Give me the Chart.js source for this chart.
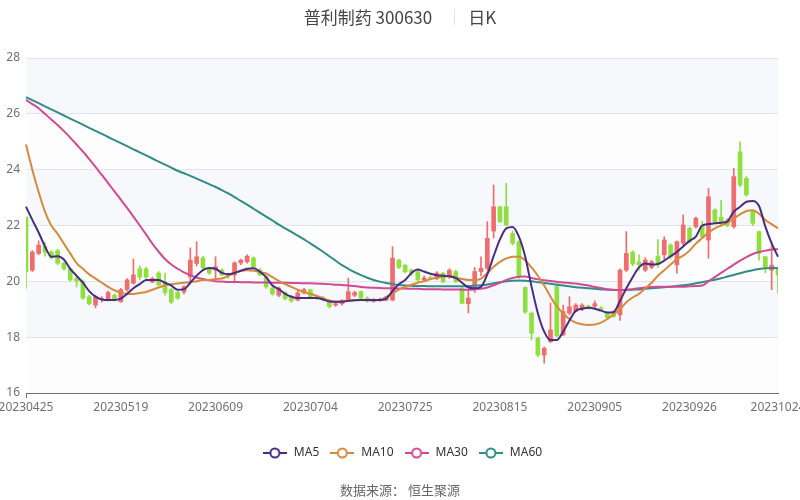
<!DOCTYPE html>
<html>
<head>
<meta charset="utf-8">
<script src="https://cdn.jsdelivr.net/npm/chart.js@4.4.0/dist/chart.umd.min.js"></script>
<style>
  html, body { margin: 0; padding: 0; background: #fff; }
  #wrap { position: relative; width: 800px; height: 500px; overflow: hidden; font-family: "Noto Sans CJK SC", "Noto Sans", sans-serif; }
  #title { position: absolute; top: 4px; left: 0; width: 800px; display: flex; justify-content: center; align-items: center; font-size: 17px; color: #464646; }
  #title .sep { width: 1px; height: 16px; background: #e3e3e3; margin: 0 13px 0 22px; }
  #source { position: absolute; top: 480px; left: 0; width: 800px; text-align: center; font-size: 13px; color: #666; }
  #chart { position: absolute; left: 0; top: 0; }
</style>
</head>
<body>
<div id="wrap">
  <canvas id="chart" width="800" height="500"></canvas>
  <div id="title"><span>普利制药 300630</span><span class="sep"></span><span>日K</span></div>
  <div id="source">数据来源：&nbsp;恒生聚源</div>
</div>
<script>
// --- data ---
const dates = [
  '20230425','20230426','20230427','20230428','20230504','20230505','20230508','20230509','20230510','20230511',
  '20230512','20230515','20230516','20230517','20230518','20230519','20230522','20230523','20230524','20230525',
  '20230526','20230529','20230530','20230531','20230601','20230602','20230605','20230606','20230607','20230608',
  '20230609','20230612','20230613','20230614','20230615','20230616','20230619','20230620','20230621','20230626',
  '20230627','20230628','20230629','20230630','20230703','20230704','20230705','20230706','20230707','20230710',
  '20230711','20230712','20230713','20230714','20230717','20230718','20230719','20230720','20230721','20230724',
  '20230725','20230726','20230727','20230728','20230731','20230801','20230802','20230803','20230804','20230807',
  '20230808','20230809','20230810','20230811','20230814','20230815','20230816','20230817','20230818','20230821',
  '20230822','20230823','20230824','20230825','20230828','20230829','20230830','20230831','20230901','20230904',
  '20230905','20230906','20230907','20230908','20230911','20230912','20230913','20230914','20230915','20230918',
  '20230919','20230920','20230921','20230922','20230925','20230926','20230927','20230928','20231009','20231010',
  '20231011','20231012','20231013','20231016','20231017','20231018','20231019','20231020','20231023','20231024'
];

const openPrices = [
  22.3,20.4,21.0,21.25,21.05,21.1,20.65,20.45,20.1,20.0,
  19.45,19.15,19.35,19.35,19.5,19.27,19.7,19.93,20.45,20.45,
  19.97,20.3,19.94,19.7,19.6,19.62,20.16,20.64,20.84,20.45,
  20.4,20.4,20.25,20.23,20.66,20.7,20.84,20.4,20.16,19.76,
  19.5,19.6,19.45,19.33,19.58,19.7,19.45,19.4,19.27,19.15,
  19.2,19.33,19.5,19.63,19.4,19.28,19.32,19.33,19.33,20.76,
  20.58,20.4,20.35,20.05,20.12,20.1,20.29,20.17,20.35,19.75,
  19.2,19.87,20.35,20.47,21.8,22.67,22.67,21.72,21.42,19.78,
  18.86,17.96,17.36,17.84,19.81,18.08,18.86,18.92,19.0,19.1,
  19.1,19.05,18.86,18.9,18.8,20.4,21.05,20.7,20.4,20.5,
  20.9,20.95,21.3,20.59,21.37,21.9,21.96,22.0,21.48,22.56,
  22.3,22.2,21.96,24.64,23.69,22.5,21.78,20.88,20.4,20.47
];
const closePrices = [
  20.35,21.05,21.3,21.05,20.85,20.65,20.45,20.05,20.0,19.4,
  19.2,19.45,19.38,19.6,19.35,19.7,20.05,20.23,20.15,20.15,
  20.1,19.87,19.6,19.26,19.4,19.8,20.76,20.88,20.48,20.3,
  20.52,20.23,20.2,20.66,20.76,20.9,20.5,20.23,19.8,19.55,
  19.76,19.38,19.3,19.58,19.7,19.45,19.42,19.35,19.09,19.2,
  19.3,19.63,19.6,19.4,19.3,19.33,19.35,19.38,20.83,20.5,
  20.34,20.3,20.05,20.12,20.1,20.3,19.99,20.4,19.99,19.21,
  19.4,20.35,20.47,21.54,22.67,22.14,22.02,21.36,20.17,18.9,
  18.14,17.36,17.6,18.26,18.05,18.92,19.09,19.15,19.15,19.08,
  19.2,19.0,18.7,18.75,20.4,21.0,20.62,20.6,20.76,20.7,
  20.6,21.48,20.88,21.42,22.02,21.42,22.26,21.6,23.03,22.14,
  22.1,22.0,23.75,23.45,23.1,22.08,21.0,20.52,20.58,20.23
];
const lowPrices = [
  19.75,20.35,20.95,20.9,20.8,20.6,20.4,20.0,19.8,19.35,
  19.15,19.05,19.25,19.3,19.3,19.25,19.65,19.9,20.05,20.1,
  19.95,19.85,19.5,19.2,19.35,19.55,20.0,20.55,20.45,20.25,
  20.05,20.2,20.1,19.94,20.6,20.65,20.45,20.2,19.75,19.5,
  19.45,19.33,19.25,19.3,19.55,19.4,19.35,19.3,19.05,19.1,
  19.15,19.3,19.45,19.35,19.25,19.25,19.28,19.3,19.3,20.45,
  20.3,20.2,20.0,20.0,20.05,20.05,19.95,20.1,19.95,19.2,
  18.87,19.6,20.2,20.4,21.55,22.1,21.98,21.3,20.1,18.85,
  17.9,17.3,17.07,17.8,18.0,18.05,18.8,18.9,18.95,19.0,
  19.05,18.95,18.65,18.7,18.6,20.35,20.55,20.4,20.35,20.45,
  20.5,20.8,20.8,20.29,21.3,21.38,21.9,21.6,20.83,22.1,
  22.0,21.95,21.9,23.4,23.05,22.0,20.76,20.3,19.7,19.58
];
const highPrices = [
  22.3,21.1,21.45,21.4,21.1,21.15,20.7,20.5,20.15,20.05,
  19.5,19.5,19.45,19.65,19.55,19.75,20.1,20.8,20.55,20.5,
  20.15,20.35,20.3,19.75,19.65,19.85,21.2,21.42,20.9,20.5,
  20.88,20.45,20.3,20.7,20.8,20.95,20.88,20.45,20.2,19.8,
  19.8,19.62,19.5,19.65,19.75,19.72,19.5,19.45,19.3,19.25,
  19.35,20.12,19.65,19.65,19.45,19.38,19.4,19.45,21.24,20.8,
  20.6,20.45,20.4,20.2,20.2,20.35,20.32,20.45,20.4,19.8,
  19.69,20.5,20.88,22.14,23.45,22.7,23.51,21.8,21.45,19.8,
  18.9,18.0,17.65,19.22,19.85,19.15,19.45,19.2,19.2,19.15,
  19.3,19.1,18.9,18.95,20.45,21.78,21.1,20.95,20.85,20.75,
  21.5,21.6,21.35,21.45,22.38,21.95,22.3,22.15,23.33,22.6,
  22.9,22.25,24.05,25.0,23.75,22.55,21.8,20.9,21.37,20.5
];

const ma5 = [
  22.67,22.2,21.75,21.25,20.88,20.9,20.78,20.45,20.2,19.95,
  19.65,19.45,19.35,19.33,19.33,19.38,19.55,19.75,19.9,20.05,
  20.05,20.05,19.95,19.85,19.7,19.72,19.95,20.2,20.4,20.48,
  20.45,20.3,20.25,20.3,20.38,20.45,20.47,20.35,20.15,19.85,
  19.72,19.55,19.45,19.4,19.4,19.4,19.4,19.35,19.28,19.27,
  19.27,19.3,19.32,19.33,19.33,19.33,19.33,19.38,19.65,19.9,
  20.05,20.3,20.42,20.35,20.27,20.22,20.2,20.18,20.12,19.95,
  19.78,19.75,19.8,20.25,20.9,21.5,21.9,21.95,21.6,20.88,
  19.81,18.86,18.2,17.9,17.9,18.2,18.6,18.95,19.02,19.05,
  19.02,18.95,18.88,18.9,19.3,19.75,20.15,20.5,20.64,20.6,
  20.62,20.74,20.9,21.05,21.25,21.45,21.6,22.0,22.05,22.08,
  22.1,22.15,22.5,22.67,22.85,22.88,22.7,21.96,21.36,20.88
];
const ma10 = [
  24.9,24.0,23.2,22.5,22.0,21.7,21.35,21.0,20.65,20.45,
  20.25,20.1,19.95,19.8,19.68,19.6,19.55,19.55,19.58,19.62,
  19.7,19.78,19.85,19.9,19.92,19.95,19.98,20.0,20.05,20.05,
  20.08,20.1,20.2,20.3,20.38,20.4,20.38,20.33,20.28,20.15,
  20.02,19.9,19.8,19.7,19.62,19.55,19.48,19.4,19.32,19.27,
  19.28,19.3,19.32,19.33,19.32,19.32,19.33,19.45,19.57,19.7,
  19.8,19.88,19.95,20.0,20.08,20.13,20.16,20.2,20.14,20.08,
  20.05,20.05,20.1,20.3,20.52,20.7,20.82,20.88,20.88,20.75,
  20.5,20.2,19.85,19.45,19.1,18.85,18.65,18.52,18.46,18.44,
  18.45,18.52,18.65,18.82,19.0,19.25,19.42,19.55,19.75,19.95,
  20.2,20.4,20.6,20.8,20.92,21.1,21.35,21.55,21.75,21.9,
  22.0,22.1,22.25,22.4,22.52,22.55,22.42,22.2,22.05,21.9
];
const ma30 = [
  26.5,26.35,26.2,26.0,25.8,25.6,25.38,25.15,24.9,24.65,
  24.38,24.1,23.81,23.52,23.22,22.93,22.63,22.32,22.0,21.68,
  21.35,21.06,20.8,20.6,20.45,20.32,20.22,20.14,20.08,20.04,
  20.0,19.99,19.98,19.98,19.97,19.97,19.96,19.96,19.96,19.95,
  19.95,19.95,19.94,19.94,19.93,19.93,19.92,19.91,19.9,19.88,
  19.87,19.85,19.83,19.8,19.78,19.77,19.76,19.75,19.75,19.74,
  19.74,19.73,19.73,19.72,19.72,19.72,19.71,19.71,19.71,19.7,
  19.7,19.71,19.73,19.78,19.86,19.95,20.05,20.12,20.16,20.17,
  20.12,20.07,20.04,20.01,19.98,19.96,19.94,19.92,19.89,19.85,
  19.8,19.76,19.72,19.7,19.69,19.7,19.72,19.75,19.78,19.8,
  19.81,19.81,19.81,19.81,19.81,19.82,19.83,19.85,20.0,20.15,
  20.3,20.45,20.6,20.74,20.87,20.98,21.05,21.1,21.14,21.15
];
const ma60 = [
  26.6,26.49,26.38,26.27,26.16,26.05,25.94,25.83,25.72,25.61,
  25.5,25.39,25.28,25.17,25.06,24.95,24.84,24.73,24.62,24.51,
  24.4,24.29,24.18,24.07,23.96,23.87,23.78,23.68,23.58,23.48,
  23.38,23.27,23.15,23.02,22.88,22.75,22.6,22.46,22.32,22.18,
  22.03,21.9,21.77,21.64,21.5,21.36,21.21,21.06,20.9,20.74,
  20.58,20.45,20.33,20.22,20.13,20.05,19.99,19.94,19.9,19.87,
  19.85,19.84,19.83,19.83,19.82,19.82,19.82,19.82,19.82,19.82,
  19.83,19.84,19.86,19.89,19.93,19.97,20.0,20.02,20.03,20.02,
  20.0,19.97,19.94,19.91,19.88,19.85,19.82,19.79,19.77,19.75,
  19.73,19.71,19.7,19.69,19.69,19.69,19.7,19.71,19.73,19.75,
  19.77,19.79,19.81,19.83,19.86,19.89,19.93,19.97,20.01,20.06,
  20.11,20.17,20.23,20.29,20.35,20.4,20.44,20.47,20.48,20.47
];

const yTicks = [16, 18, 20, 22, 24, 26, 28];
const maNames = ['MA5', 'MA10', 'MA30', 'MA60'];
const maColors = ['#4a2c86', '#d78a3c', '#d24a94', '#318c87'];
const upColor = '#ef6d6d';
const downColor = '#8fe03d';

// --- helpers ---
const candleColors = openPrices.map((o, i) => closePrices[i] >= o ? upColor : downColor);
const labelEvery = 15;
const showTick = i => i % labelEvery === 0 || i === dates.length - 1;

function makeIcon(color) {
    const c = document.createElement('canvas');
    c.width = 24; c.height = 14;
    const g = c.getContext('2d');
    g.strokeStyle = color;
    g.lineWidth = 2;
    g.beginPath(); g.moveTo(0, 7); g.lineTo(24, 7); g.stroke();
    g.beginPath(); g.arc(12, 7, 4.5, 0, Math.PI * 2);
    g.fillStyle = '#fff'; g.fill(); g.stroke();
    return c;
}
const icons = maColors.map(makeIcon);

// alternating background bands between y ticks
const splitArea = {
    id: 'splitArea',
    beforeDraw(chart) {
        const { ctx, chartArea, scales } = chart;
        const y = scales.y;
        ctx.save();
        for (let k = 0; k < yTicks.length - 1; k++) {
            const y1 = y.getPixelForValue(yTicks[k]);
            const y2 = y.getPixelForValue(yTicks[k + 1]);
            ctx.fillStyle = k % 2 === 0 ? 'rgba(250,250,250,0.3)' : 'rgba(210,219,238,0.2)';
            ctx.fillRect(chartArea.left, y2, chartArea.right - chartArea.left, y1 - y2);
        }
        ctx.restore();
    }
};

Chart.defaults.font.family = "'Noto Sans', 'Noto Sans CJK SC', sans-serif";
Chart.defaults.font.size = 12;
Chart.defaults.color = '#6e7079';

const maDatasets = maNames.map((name, k) => ({
    type: 'line',
    label: name,
    data: [ma5, ma10, ma30, ma60][k],
    borderColor: maColors[k],
    backgroundColor: maColors[k],
    borderWidth: 2,
    pointRadius: 0,
    cubicInterpolationMode: 'monotone',
    fill: false,
    order: 1
}));

new Chart(document.getElementById('chart'), {
    type: 'bar',
    data: {
        labels: dates,
        datasets: [
            {
                label: 'wick',
                data: dates.map((d, i) => [lowPrices[i], highPrices[i]]),
                backgroundColor: candleColors,
                barThickness: 1,
                grouped: false,
                minBarLength: 1,
                order: 3
            },
            {
                label: 'body',
                data: dates.map((d, i) => [openPrices[i], closePrices[i]]),
                backgroundColor: candleColors,
                barThickness: 4,
                grouped: false,
                minBarLength: 1,
                order: 2
            },
            ...maDatasets
        ]
    },
    options: {
        responsive: false,
        animation: false,
        layout: { padding: { top: 58, left: 0, right: 22, bottom: 31 } },
        plugins: {
            tooltip: { enabled: false },
            legend: {
                position: 'bottom',
                fullSize: false,
                labels: {
                    usePointStyle: true,
                    pointStyleWidth: 26,
                    boxHeight: 14,
                    padding: 10,
                    color: '#333',
                    font: { size: 12 },
                    generateLabels: () => maNames.map((name, k) => ({
                        text: name,
                        pointStyle: icons[k],
                        fillStyle: maColors[k],
                        strokeStyle: maColors[k],
                        lineWidth: 0,
                        hidden: false,
                        fontColor: '#333',
                        datasetIndex: k + 2
                    }))
                }
            }
        },
        scales: {
            x: {
                offset: false,
                grid: {
                    offset: false,
                    drawOnChartArea: false,
                    drawTicks: true,
                    tickLength: 5,
                    color: ctx => showTick(ctx.index) ? '#6e7079' : 'rgba(0,0,0,0)'
                },
                border: { display: true, color: '#6e7079' },
                ticks: {
                    autoSkip: false,
                    maxRotation: 0,
                    padding: 2,
                    color: '#6e7079',
                    callback: (v, i) => showTick(i) ? dates[i] : null
                },
                afterFit: s => { s.height = 44; s.paddingLeft = 0; s.paddingRight = 0; }
            },
            y: {
                min: 16,
                max: 28,
                afterBuildTicks: s => { s.ticks = yTicks.map(v => ({ value: v })); },
                grid: { color: '#e0e6f1', drawTicks: false },
                border: { display: false },
                ticks: { padding: 6, color: '#6e7079' },
                afterFit: s => { s.width = 26; }
            }
        }
    },
    plugins: [splitArea]
});
</script>
</body>
</html>
